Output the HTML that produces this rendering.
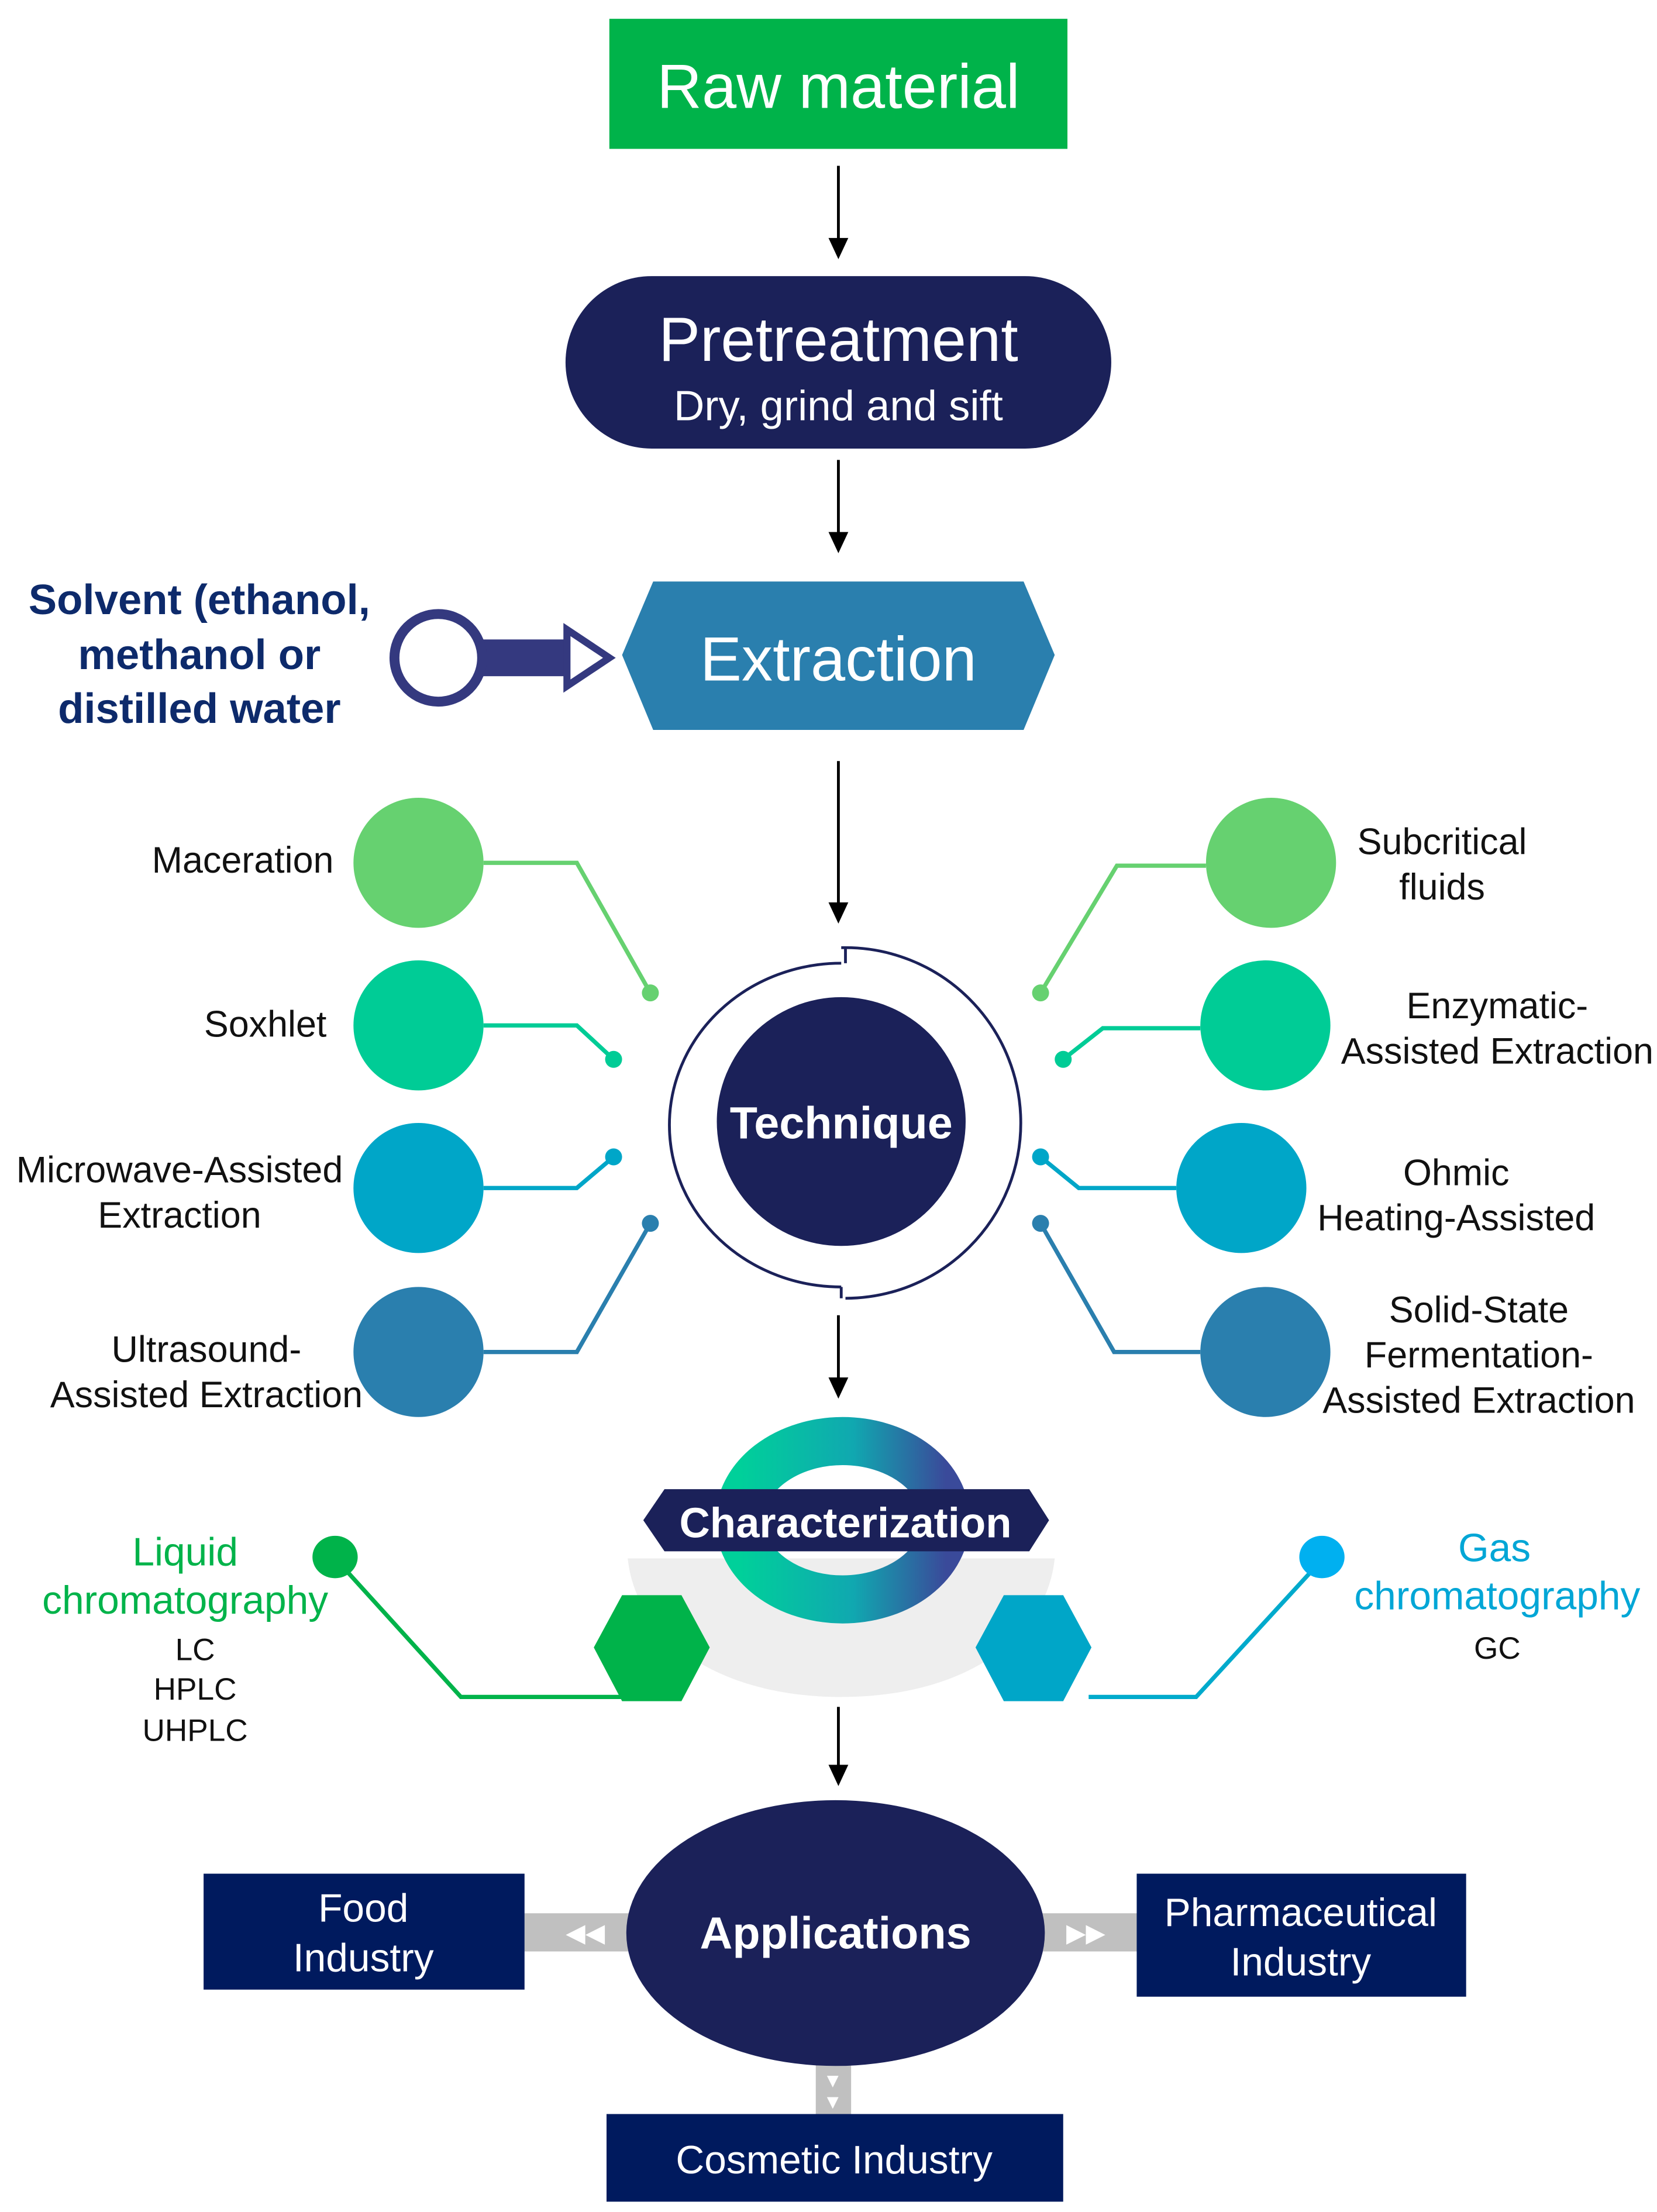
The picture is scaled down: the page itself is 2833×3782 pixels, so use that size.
<!DOCTYPE html>
<html><head><meta charset="utf-8"><style>
html,body{margin:0;padding:0;background:#fff}
svg{display:block}
text{font-family:"Liberation Sans",sans-serif}
</style></head><body>
<svg width="2833" height="3782" viewBox="0 0 1172 1564" xmlns="http://www.w3.org/2000/svg">
<defs>
<marker id="ah" markerWidth="10" markerHeight="14" refX="5" refY="12" orient="auto" markerUnits="userSpaceOnUse">
<path d="M0,0 L10,0 L5,14 Z" fill="#000" transform="rotate(-90 5 7) rotate(90 5 7)"/>
</marker>
<linearGradient id="rg" x1="0" x2="1" y1="0" y2="0">
<stop offset="0" stop-color="#00d09a"/><stop offset="0.55" stop-color="#10a8b0"/><stop offset="1" stop-color="#3a4a9a"/>
</linearGradient>
</defs>
<rect width="1172" height="1564" fill="#fff"/>

<!-- arrows -->
<g stroke="#000" stroke-width="2">
<line x1="593" y1="117" x2="593" y2="170"/>
<line x1="593" y1="325" x2="593" y2="378"/>
<line x1="593" y1="538" x2="593" y2="640"/>
<line x1="593" y1="930" x2="593" y2="976"/>
<line x1="593" y1="1207" x2="593" y2="1250"/>
</g>
<g fill="#000">
<path d="M586,168 L600,168 L593,183 Z"/>
<path d="M586,376 L600,376 L593,391 Z"/>
<path d="M586,638 L600,638 L593,653 Z"/>
<path d="M586,974 L600,974 L593,989 Z"/>
<path d="M586,1248 L600,1248 L593,1263 Z"/>
</g>

<!-- Raw material -->
<rect x="431" y="13" width="324" height="92" fill="#00b34a"/>
<text x="593" y="76" font-size="44" fill="#fff" text-anchor="middle">Raw material</text>

<!-- Pretreatment -->
<rect x="400" y="195" width="386" height="122" rx="61" fill="#1b2159"/>
<text x="593" y="255" font-size="44" fill="#fff" text-anchor="middle">Pretreatment</text>
<text x="593" y="297" font-size="30" fill="#fff" text-anchor="middle">Dry, grind and sift</text>

<!-- Extraction -->
<polygon points="440,463 462,411 724,411 746,463 724,516 462,516" fill="#2a7fae"/>
<text x="593" y="481" font-size="44" fill="#fff" text-anchor="middle">Extraction</text>

<!-- solvent -->
<g font-size="30" fill="#0d2a6b" text-anchor="middle" font-weight="bold">
<text x="141" y="434">Solvent (ethanol,</text>
<text x="141" y="473">methanol or</text>
<text x="141" y="511">distilled water</text>
</g>
<rect x="336" y="452" width="66" height="26" fill="#34397f"/>
<circle cx="310" cy="465" r="31" fill="#fff" stroke="#34397f" stroke-width="7"/>
<polygon points="401,445 431,465 401,485" fill="#fff" stroke="#34397f" stroke-width="5"/>

<!-- Technique -->
<path d="M595,681 A121,114 0 0 0 595,910" fill="none" stroke="#1b2159" stroke-width="2"/>
<path d="M598,670 A124,124 0 0 1 598,918" fill="none" stroke="#1b2159" stroke-width="2"/>
<line x1="595" y1="670" x2="598" y2="670" stroke="#1b2159" stroke-width="2"/>
<line x1="598" y1="670" x2="598" y2="681" stroke="#1b2159" stroke-width="2"/>
<line x1="595" y1="910" x2="595" y2="918" stroke="#1b2159" stroke-width="2"/>
<circle cx="595" cy="793" r="88" fill="#1b2159"/>
<text x="595" y="805" font-size="32" fill="#fff" text-anchor="middle" font-weight="bold">Technique</text>

<!-- left circles & lines -->
<g stroke-width="3" fill="none">
<polyline points="342,610 408,610 460,702" stroke="#66d170"/>
<polyline points="342,725 408,725 434,749" stroke="#00cc96"/>
<polyline points="342,840 408,840 434,818" stroke="#00a6c8"/>
<polyline points="342,956 408,956 460,865" stroke="#2a7fae"/>
<polyline points="736,702 790,612 853,612" stroke="#66d170"/>
<polyline points="752,749 780,727 849,727" stroke="#00cc96"/>
<polyline points="736,818 763,840 832,840" stroke="#00a6c8"/>
<polyline points="736,865 788,956 849,956" stroke="#2a7fae"/>
</g>
<circle cx="296" cy="610" r="46" fill="#66d170"/>
<circle cx="296" cy="725" r="46" fill="#00cc96"/>
<circle cx="296" cy="840" r="46" fill="#00a6c8"/>
<circle cx="296" cy="956" r="46" fill="#2a7fae"/>
<circle cx="899" cy="610" r="46" fill="#66d170"/>
<circle cx="895" cy="725" r="46" fill="#00cc96"/>
<circle cx="878" cy="840" r="46" fill="#00a6c8"/>
<circle cx="895" cy="956" r="46" fill="#2a7fae"/>
<circle cx="460" cy="702" r="6" fill="#66d170"/>
<circle cx="434" cy="749" r="6" fill="#00cc96"/>
<circle cx="434" cy="818" r="6" fill="#00a6c8"/>
<circle cx="460" cy="865" r="6" fill="#2a7fae"/>
<circle cx="736" cy="702" r="6" fill="#66d170"/>
<circle cx="752" cy="749" r="6" fill="#00cc96"/>
<circle cx="736" cy="818" r="6" fill="#00a6c8"/>
<circle cx="736" cy="865" r="6" fill="#2a7fae"/>

<g font-size="26" fill="#111">
<text x="236" y="617" text-anchor="end">Maceration</text>
<text x="231" y="733" text-anchor="end">Soxhlet</text>
<text x="127" y="836" text-anchor="middle">Microwave-Assisted</text>
<text x="127" y="868" text-anchor="middle">Extraction</text>
<text x="146" y="963" text-anchor="middle">Ultrasound-</text>
<text x="146" y="995" text-anchor="middle">Assisted Extraction</text>
<text x="1020" y="604" text-anchor="middle">Subcritical</text>
<text x="1020" y="636" text-anchor="middle">fluids</text>
<text x="1059" y="720" text-anchor="middle">Enzymatic-</text>
<text x="1059" y="752" text-anchor="middle">Assisted Extraction</text>
<text x="1030" y="838" text-anchor="middle">Ohmic</text>
<text x="1030" y="870" text-anchor="middle">Heating-Assisted</text>
<text x="1046" y="935" text-anchor="middle">Solid-State</text>
<text x="1046" y="967" text-anchor="middle">Fermentation-</text>
<text x="1046" y="999" text-anchor="middle">Assisted Extraction</text>
</g>

<!-- Characterization -->
<path d="M444,1102 L746,1102 C740,1160 680,1200 595,1200 C510,1200 450,1160 444,1102 Z" fill="#eeeeee"/>
<ellipse cx="596" cy="1075" rx="73" ry="56" fill="none" stroke="url(#rg)" stroke-width="34"/>
<polygon points="455,1075 470,1053 728,1053 742,1075 728,1097 470,1097" fill="#1b2159"/>
<text x="598" y="1087" font-size="30" fill="#fff" text-anchor="middle" font-weight="bold">Characterization</text>

<polyline points="440,1200 326,1200 238,1103" fill="none" stroke="#00b34a" stroke-width="3"/>
<polyline points="770,1200 846,1200 935,1103" fill="none" stroke="#00aacc" stroke-width="3"/>
<ellipse cx="237" cy="1101" rx="16" ry="15" fill="#00b34a"/>
<ellipse cx="935" cy="1101" rx="16" ry="15" fill="#00b0f0"/>
<polygon points="420,1165 440,1128 482,1128 502,1165 482,1203 440,1203" fill="#00b34a"/>
<polygon points="690,1165 710,1128 752,1128 772,1165 752,1203 710,1203" fill="#00a6c8"/>

<g font-size="28" text-anchor="middle">
<text x="131" y="1107" fill="#00b34a">Liquid</text>
<text x="131" y="1141" fill="#00b34a">chromatography</text>
<text x="1057" y="1104" fill="#00a6d6">Gas</text>
<text x="1059" y="1138" fill="#00a6d6">chromatography</text>
</g>
<g font-size="22" text-anchor="middle" fill="#111">
<text x="138" y="1174">LC</text>
<text x="138" y="1202">HPLC</text>
<text x="138" y="1231">UHPLC</text>
<text x="1059" y="1173">GC</text>
</g>

<!-- Applications -->
<rect x="371" y="1353" width="76" height="27" fill="#c0c0c0"/>
<rect x="736" y="1353" width="70" height="27" fill="#c0c0c0"/>
<rect x="577" y="1455" width="25" height="42" fill="#c0c0c0"/>
<text x="414" y="1373" font-size="18" fill="#fff" text-anchor="middle">◀◀</text>
<text x="768" y="1373" font-size="18" fill="#fff" text-anchor="middle">▶▶</text>
<text x="589" y="1476" font-size="14" fill="#fff" text-anchor="middle">▼</text>
<text x="589" y="1491" font-size="14" fill="#fff" text-anchor="middle">▼</text>
<ellipse cx="591" cy="1367" rx="148" ry="94" fill="#1b2159"/>
<text x="591" y="1378" font-size="32" fill="#fff" text-anchor="middle" font-weight="bold">Applications</text>

<rect x="144" y="1325" width="227" height="82" fill="#001a5e"/>
<text x="257" y="1359" font-size="28" fill="#fff" text-anchor="middle">Food</text>
<text x="257" y="1394" font-size="28" fill="#fff" text-anchor="middle">Industry</text>
<rect x="804" y="1325" width="233" height="87" fill="#001a5e"/>
<text x="920" y="1362" font-size="28" fill="#fff" text-anchor="middle">Pharmaceutical</text>
<text x="920" y="1397" font-size="28" fill="#fff" text-anchor="middle">Industry</text>
<rect x="429" y="1495" width="323" height="62" fill="#001a5e"/>
<text x="590" y="1537" font-size="28" fill="#fff" text-anchor="middle">Cosmetic Industry</text>
</svg>
</body></html>
